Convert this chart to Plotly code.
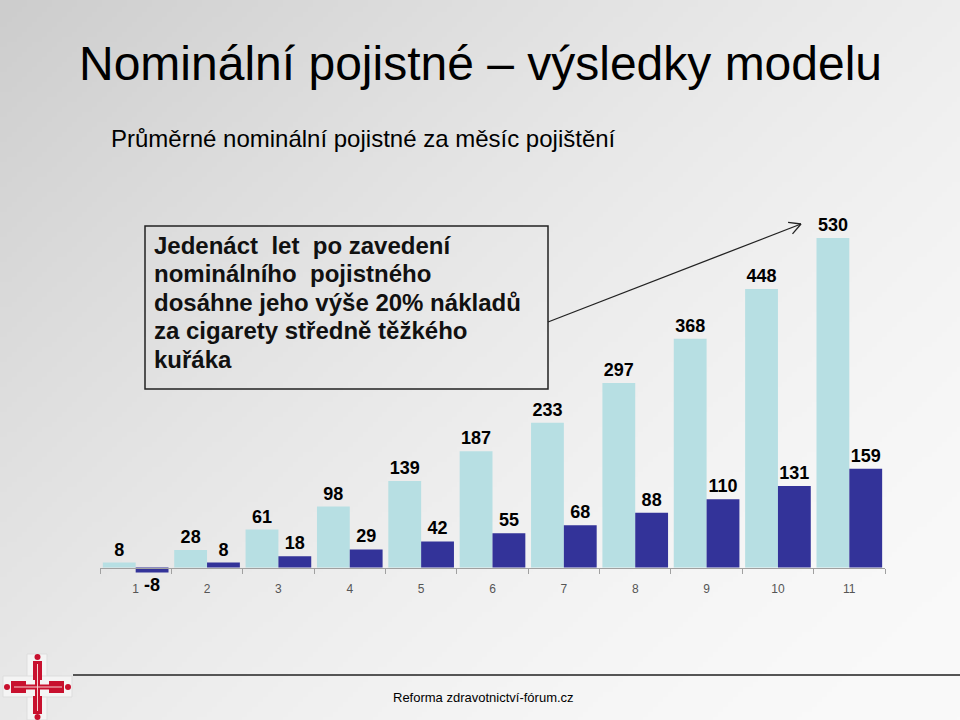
import zlib, struct, base64
import numpy as np
import plotly.graph_objects as go

# ---------------- data ----------------
years = [1, 2, 3, 4, 5, 6, 7, 8, 9, 10, 11]
series_light = [8, 28, 61, 98, 139, 187, 233, 297, 368, 448, 530]
series_dark = [-8, 8, 18, 29, 42, 55, 68, 88, 110, 131, 159]
tick_labels = [str(y) for y in years]

title_text = "Nominální pojistné – výsledky modelu"
subtitle_text = "Průměrné nominální pojistné za měsíc pojištění"
box_lines = [
    "Jedenáct  let  po zavedení",
    "nominálního  pojistného",
    "dosáhne jeho výše 20% nákladů",
    "za cigarety středně těžkého",
    "kuřáka",
]
footer_text = "Reforma zdravotnictví-fórum.cz"

W, H = 960, 720
LIGHT = "#b7dfe3"
DARK = "#333399"


def px(x):
    return x / W


def py(y):
    return 1 - y / H


# ---------------- background gradient image ----------------
def png_gray(arr):
    h, w = arr.shape
    raw = b"".join(b"\x00" + arr[i].tobytes() for i in range(h))

    def chunk(tag, data):
        c = struct.pack(">I", len(data)) + tag + data
        return c + struct.pack(">I", zlib.crc32(tag + data) & 0xFFFFFFFF)

    ihdr = struct.pack(">IIBBBBB", w, h, 8, 0, 0, 0, 0)
    return (b"\x89PNG\r\n\x1a\n" + chunk(b"IHDR", ihdr)
            + chunk(b"IDAT", zlib.compress(raw, 9)) + chunk(b"IEND", b""))


gw, gh = 192, 144
gx, gy = np.meshgrid(np.linspace(0, 1, gw), np.linspace(0, 1, gh))
t = np.clip(0.55 * gx + 0.45 * gy, 0, 1)
g = 250 - 45 * (1 - t) ** 1.6
bg_png = png_gray(g.astype(np.uint8))
bg_uri = "data:image/png;base64," + base64.b64encode(bg_png).decode()

# ---------------- figure ----------------
fig = go.Figure()
fig.add_trace(go.Bar(
    x=years, y=series_light, marker=dict(color=LIGHT, line=dict(width=0)),
    text=[str(v) for v in series_light], textposition="outside",
    textfont=dict(family="Liberation Sans", size=18, color="black", weight="bold"),
    cliponaxis=False, constraintext="none", hoverinfo="skip",
))
fig.add_trace(go.Bar(
    x=years, y=series_dark, marker=dict(color=DARK, line=dict(width=0)),
    text=[str(v) for v in series_dark], textposition="outside",
    textfont=dict(family="Liberation Sans", size=18, color="black", weight="bold"),
    cliponaxis=False, constraintext="none", hoverinfo="skip",
))

shapes = []
annotations = []

# text box
shapes.append(dict(type="rect", xref="paper", yref="paper",
                   x0=px(145), x1=px(548), y0=py(226), y1=py(389),
                   line=dict(color="#222222", width=1.5), fillcolor="rgba(0,0,0,0)"))
for i, line in enumerate(box_lines):
    annotations.append(dict(text=line, xref="paper", yref="paper",
                            x=px(153), y=py(245 + i * 28.5), xanchor="left", yanchor="middle",
                            showarrow=False, borderpad=0,
                            font=dict(family="Liberation Sans", size=24, color="#111111", weight="bold")))

# arrow
tail = np.array([548.0, 322.0])
head = np.array([801.0, 224.0])
shapes.append(dict(type="line", xref="paper", yref="paper",
                   x0=px(tail[0]), y0=py(tail[1]), x1=px(head[0]), y1=py(head[1]),
                   line=dict(color="#222222", width=1.3)))
u = (tail - head) / np.linalg.norm(tail - head)
for ang in (np.radians(28), -np.radians(28)):
    rot = np.array([[np.cos(ang), -np.sin(ang)], [np.sin(ang), np.cos(ang)]])
    p = head + 13 * rot @ u
    shapes.append(dict(type="line", xref="paper", yref="paper",
                       x0=px(head[0]), y0=py(head[1]), x1=px(p[0]), y1=py(p[1]),
                       line=dict(color="#222222", width=1.3)))

# footer line
shapes.append(dict(type="line", xref="paper", yref="paper",
                   x0=px(73), x1=px(960), y0=py(675), y1=py(675),
                   line=dict(color="#555555", width=2.2)))

# logo
RED = "#c8102e"
shapes += [
    dict(type="rect", xref="paper", yref="paper", x0=px(27), x1=px(47), y0=py(654), y1=py(720),
         fillcolor="#f4f4f4", line=dict(color="#dddddd", width=1), layer="below"),
    dict(type="rect", xref="paper", yref="paper", x0=px(3), x1=px(72), y0=py(676), y1=py(697),
         fillcolor="#f4f4f4", line=dict(color="#dddddd", width=1), layer="below"),
    dict(type="rect", xref="paper", yref="paper", x0=px(33), x1=px(42), y0=py(661), y1=py(680),
         fillcolor=RED, line=dict(width=0)),
    dict(type="rect", xref="paper", yref="paper", x0=px(33), x1=px(42), y0=py(696), y1=py(714),
         fillcolor=RED, line=dict(width=0)),
    dict(type="rect", xref="paper", yref="paper", x0=px(11), x1=px(26), y0=py(681), y1=py(693),
         fillcolor=RED, line=dict(width=0)),
    dict(type="rect", xref="paper", yref="paper", x0=px(49), x1=px(64), y0=py(681), y1=py(693),
         fillcolor=RED, line=dict(width=0)),
    dict(type="rect", xref="paper", yref="paper", x0=px(35), x1=px(40), y0=py(678), y1=py(698),
         fillcolor=RED, line=dict(width=0)),
    dict(type="rect", xref="paper", yref="paper", x0=px(24), x1=px(51), y0=py(684.5), y1=py(689.5),
         fillcolor=RED, line=dict(width=0)),
    dict(type="line", xref="paper", yref="paper", x0=px(37.5), x1=px(37.5), y0=py(664), y1=py(711),
         line=dict(color="#f6d0d0", width=1)),
    dict(type="line", xref="paper", yref="paper", x0=px(14), x1=px(62), y0=py(687), y1=py(687),
         line=dict(color="#f6d0d0", width=1)),
]
for cx, cy in [(37.5, 657), (37.5, 717), (7, 687), (68, 687)]:
    shapes.append(dict(type="circle", xref="paper", yref="paper",
                       x0=px(cx - 3), x1=px(cx + 3), y0=py(cy - 3), y1=py(cy + 3),
                       fillcolor=RED, line=dict(width=0)))

# titles
annotations.append(dict(text=title_text, xref="paper", yref="paper", x=px(480), y=py(63),
                        xanchor="center", yanchor="middle", showarrow=False,
                        font=dict(family="Liberation Sans", size=48, color="black")))
annotations.append(dict(text=subtitle_text, xref="paper", yref="paper", x=px(109), y=py(138),
                        xanchor="left", yanchor="middle", showarrow=False,
                        font=dict(family="Liberation Sans", size=24, color="black")))
annotations.append(dict(text=footer_text, xref="paper", yref="paper", x=px(391), y=py(697),
                        xanchor="left", yanchor="middle", showarrow=False,
                        font=dict(family="Liberation Sans", size=13, color="black")))

fig.update_layout(
    width=W, height=H,
    margin=dict(l=0, r=0, t=0, b=0, pad=0),
    paper_bgcolor="#eeeeee", plot_bgcolor="rgba(0,0,0,0)",
    barmode="group", bargap=0.08, bargroupgap=0,
    showlegend=False,
    shapes=shapes, annotations=annotations,
    images=[dict(source=bg_uri, xref="paper", yref="paper", x=0, y=1, sizex=1, sizey=1,
                 xanchor="left", yanchor="top", sizing="stretch", layer="below")],
    xaxis=dict(domain=[px(100), px(885)], range=[0.5, 11.5], anchor="free", position=py(567.5),
               tickmode="array", tickvals=years, ticktext=tick_labels, ticks="",
               showline=True, linecolor="#a0a0a0", linewidth=1.2, showgrid=False, zeroline=False,
               tickfont=dict(family="Liberation Sans", size=12, color="#555555"),
               ticklabelstandoff=10,
               minor=dict(tickvals=[v + 0.5 for v in [0] + years], ticks="outside",
                          ticklen=5, tickcolor="#a0a0a0", tickwidth=1.2, showgrid=False)),
    yaxis=dict(domain=[py(600), py(210)], range=[-52.3, 575.2], visible=False),
)

fig.write_html("out.html", config={"displayModeBar": False},
               post_script="document.body.style.margin='0';document.body.style.overflow='hidden';")
